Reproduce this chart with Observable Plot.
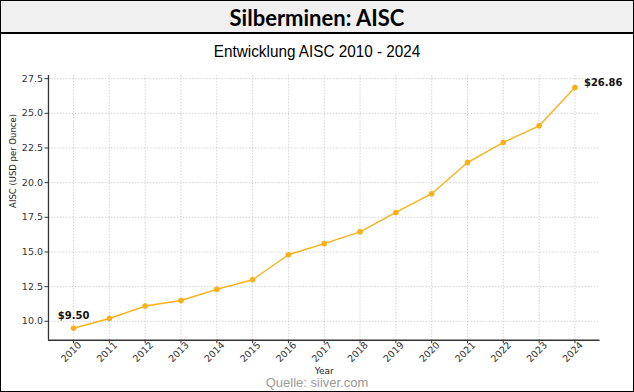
<!DOCTYPE html>
<html>
<head>
<meta charset="utf-8">
<script src="https://cdn.jsdelivr.net/npm/d3@7"></script>
<script src="https://cdn.jsdelivr.net/npm/@observablehq/plot@0.6"></script>
<style>
  html, body { margin: 0; padding: 0; background: #fff; }
  #frame { position: relative; width: 634px; height: 392px; box-sizing: border-box; border: 1.5px solid #000; overflow: hidden; background: #fff; }
  #title { position: absolute; left: 0; top: 0; width: 100%; height: 33px; background: #f0f0f0; border-bottom: 2px solid #000; box-sizing: border-box; text-align: center; font: bold 22px "Lato", "Liberation Sans", sans-serif; line-height: 33px; color: #000; }
  #title span, #subtitle span { display: inline-block; }
  #title span { transform: scaleX(1.0); }
  #subtitle { position: absolute; left: 0; top: 41px; width: 100%; text-align: center; font: 16px "Liberation Sans", sans-serif; color: #000; line-height: 20px; }
  #subtitle span { transform: scaleX(0.955); }
  #chart { position: absolute; left: -1.5px; top: 60px; }
  #caption { position: absolute; left: 0; top: 374px; width: 100%; text-align: center; font: 13px "Liberation Sans", sans-serif; color: #9a9a9a; line-height: 16px; }
</style>
</head>
<body>
<div id="frame">
  <div id="title"><span>Silberminen: AISC</span></div>
  <div id="subtitle"><span>Entwicklung AISC 2010 - 2024</span></div>
  <div id="chart"></div>
  <div id="caption">Quelle: siiver.com</div>
</div>
<script>
const years = [2010, 2011, 2012, 2013, 2014, 2015, 2016, 2017, 2018, 2019, 2020, 2021, 2022, 2023, 2024];
const aisc = [9.50, 10.2, 11.1, 11.5, 12.3, 13.0, 14.8, 15.6, 16.45, 17.85, 19.2, 21.45, 22.9, 24.1, 26.86];
const yTicks = [10.0, 12.5, 15.0, 17.5, 20.0, 22.5, 25.0, 27.5];
const xLabel = "Year";
const yLabel = "AISC (USD per Ounce)";

const data = years.map((y, i) => ({year: y, value: aisc[i]}));
const xDomain = [2009.3, 2024.7];
const yDomain = [8.632, 27.728];
const first = [data[0]];
const last = [data[data.length - 1]];
const lineColor = "#FBB017";
const font = "DejaVu Sans, sans-serif";

const chart = Plot.plot({
  width: 634,
  height: 318,
  marginTop: 14,
  marginBottom: 39,
  marginLeft: 48,
  marginRight: 34,
  style: {fontFamily: font, fontSize: "9.5px", color: "#333", background: "transparent"},
  x: {domain: xDomain, label: null},
  y: {domain: yDomain, label: null},
  marks: [
    Plot.gridX(years, {stroke: "#c8c8c8", strokeOpacity: 1, strokeDasharray: "1.5,1.5", strokeWidth: 0.8}),
    Plot.gridY(yTicks, {stroke: "#c8c8c8", strokeOpacity: 1, strokeDasharray: "1.5,1.5", strokeWidth: 0.8}),
    Plot.axisY({ticks: yTicks, tickFormat: d => d.toFixed(1), tickSize: 3.5, tickPadding: 2, fontSize: 9.5, stroke: "#333", fill: "#333", label: null}),
    Plot.axisX({ticks: years, tickSize: 3.5, tickFormat: () => "", stroke: "#333", label: null}),
    Plot.text(years, {x: d => d, frameAnchor: "bottom", dy: 14, rotate: -45, textAnchor: "middle", text: d => String(d), fontSize: 9.5, fill: "#333"}),
    Plot.ruleX([xDomain[0]], {stroke: "#333", strokeWidth: 1.3}),
    Plot.ruleY([yDomain[0]], {stroke: "#333", strokeWidth: 1.3}),
    Plot.line(data, {x: "year", y: "value", stroke: lineColor, strokeWidth: 1.4}),
    Plot.dot(data, {x: "year", y: "value", fill: lineColor, r: 2.8}),
    Plot.text(first, {x: "year", y: "value", text: d => "$" + d.value.toFixed(2), dy: -12, textAnchor: "middle", fontWeight: "bold", fontSize: 10, fill: "#111"}),
    Plot.text(last, {x: "year", y: "value", text: d => "$" + d.value.toFixed(2), dx: 9, dy: -5, textAnchor: "start", fontWeight: "bold", fontSize: 10, fill: "#111"}),
    Plot.text([xLabel], {frameAnchor: "bottom", dy: 34, text: d => d, fontSize: 9, fill: "#222"}),
    Plot.text([yLabel], {frameAnchor: "left", dx: -35, rotate: -90, text: d => d, fontSize: 8.5, fill: "#222"})
  ]
});
document.getElementById("chart").appendChild(chart);
</script>
</body>
</html>
